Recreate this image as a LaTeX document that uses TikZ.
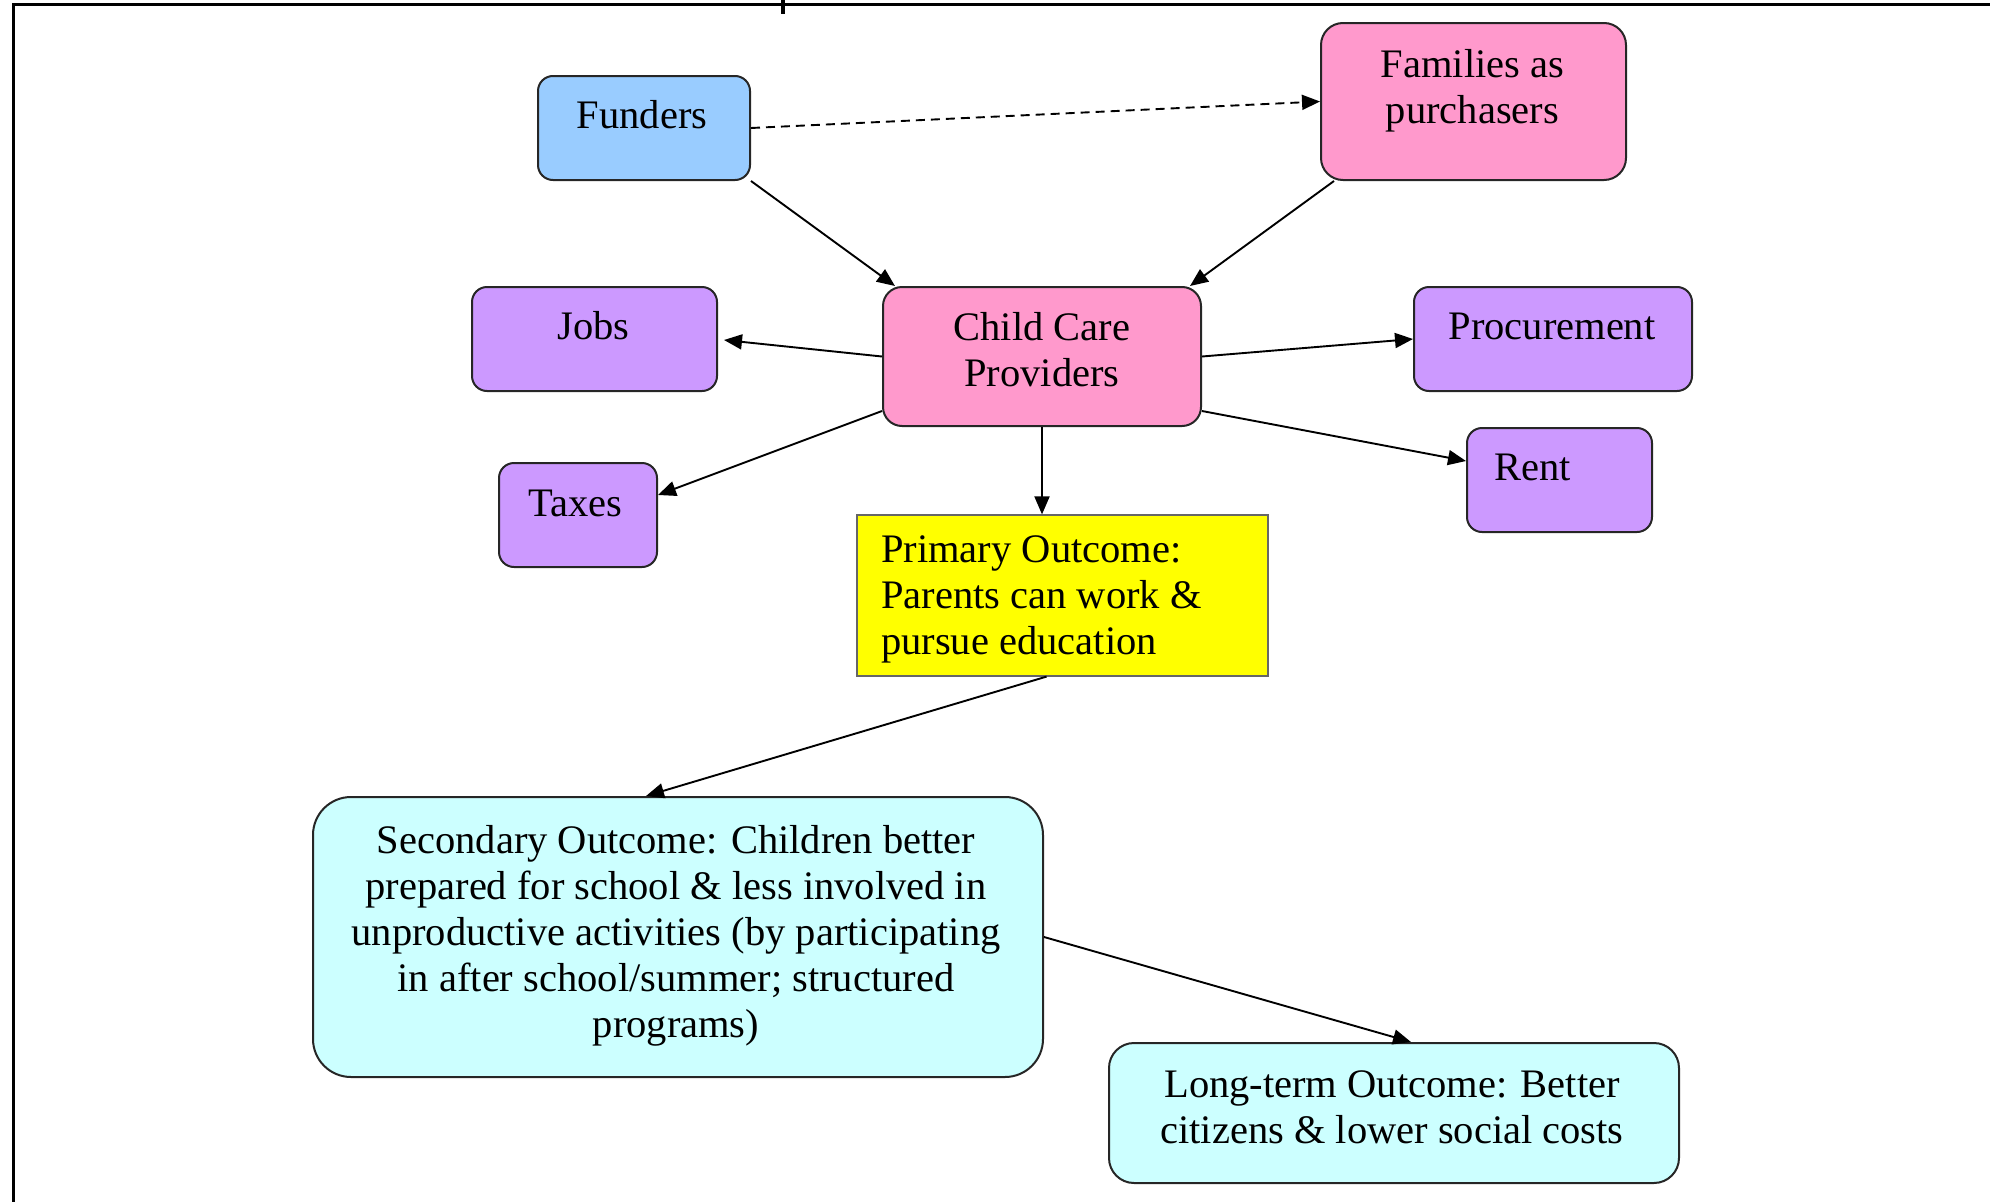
\documentclass[tikz,border=0pt]{standalone}
\usepackage{fontspec}
\setmainfont{Liberation Serif}
\usetikzlibrary{arrows.meta,calc}
\definecolor{funderblue}{HTML}{99CCFF}
\definecolor{provpink}{HTML}{FF99CC}
\definecolor{econpurple}{HTML}{CC99FF}
\definecolor{outyellow}{HTML}{FFFF00}
\definecolor{outcyan}{HTML}{CCFFFF}
\begin{document}
\begin{tikzpicture}[x=1pt,y=-1pt,
  box/.style={draw=black!85, line width=2pt, rounded corners=15pt, inner sep=0pt},
  lbl/.style={font=\fontsize{40.5}{46}\selectfont, align=center, inner sep=0pt},
  edge/.style={line width=1.9pt, -{Triangle[length=18pt,width=15pt]}},
  frameline/.style={line width=3pt}
]
\useasboundingbox (0,0) rectangle (1990,1202);
% frame
\draw[frameline] (13,1202) -- (13,4) -- (1990,4);
\draw[line width=4pt] (783,0) -- (783,14);

% boxes
\node[box, fill=funderblue, minimum width=212pt, minimum height=104pt] (funders) at (644,128) {};
\node[box, fill=provpink, rounded corners=22pt, minimum width=305pt, minimum height=157pt] (families) at (1473.5,101.5) {};
\node[box, fill=provpink, rounded corners=19pt, minimum width=318pt, minimum height=139pt] (ccp) at (1042,356.5) {};
\node[box, fill=econpurple, minimum width=245pt, minimum height=104pt] (jobs) at (594.5,339) {};
\node[box, fill=econpurple, minimum width=278pt, minimum height=104pt] (procurement) at (1553,339) {};
\node[box, fill=econpurple, minimum width=158pt, minimum height=104pt] (taxes) at (578,515) {};
\node[box, fill=econpurple, minimum width=185pt, minimum height=104pt] (rent) at (1559.5,480) {};
\node[draw=black!60, line width=1.2pt, fill=outyellow, inner sep=0pt, minimum width=411pt, minimum height=161pt] (primary) at (1062.5,595.5) {};
\node[box, fill=outcyan, rounded corners=38pt, minimum width=730pt, minimum height=280pt] (secondary) at (678,937) {};
\node[box, fill=outcyan, rounded corners=25pt, minimum width=570pt, minimum height=140pt] (longterm) at (1394,1113) {};

% labels
\node[lbl] (funders-t) at ($(funders.center)+(-2,-13)$) {Funders};
\node[lbl] (families-t) at ($(families.center)+(-1,-11)$) {Families as\\purchasers};
\node[lbl] (ccp-t) at ($(ccp.center)+(0,-7)$) {Child Care\\Providers};
\node[lbl] (jobs-t) at ($(jobs.center)+(-1,-13)$) {Jobs};
\node[lbl] (procurement-t) at ($(procurement.center)+(-1,-13)$) {Procurement};
\node[lbl] (taxes-t) at ($(taxes.center)+(-3,-12)$) {Taxes};
\node[lbl] (rent-t) at ($(rent.center)+(-27,-13)$) {Rent};
\node[lbl, align=left, anchor=west] (primary-t) at (881,599.5) {Primary Outcome:\\Parents can work \&\\pursue education};
\node[lbl] (secondary-t) at ($(secondary.center)+(-2,-1)$) {Secondary Outcome: Children better\\prepared for school \& less involved in\\unproductive activities (by participating\\in after school/summer; structured\\programs)};
\node[lbl] (longterm-t) at ($(longterm.center)+(-2,-6)$) {Long-term Outcome: Better\\citizens \& lower social costs};

% connectors
\draw[edge, dash pattern=on 9pt off 6pt] (funders.east) -- (families.west);
\draw[edge] (funders.south east) -- ($(ccp.north west)+(13,0)$);
\draw[edge] ($(families.south west)+(14,0)$) -- ($(ccp.north east)+(-12,0)$);
\draw[edge] (ccp.west) -- ($(jobs.east)+(6,1)$);
\draw[edge] (ccp.east) -- (procurement.west);
\draw[edge] ($(ccp.south west)+(0,-16)$) -- ($(taxes.north east)+(0,33)$);
\draw[edge] ($(ccp.south east)+(0,-16)$) -- ($(rent.north west)+(0,34)$);
\draw[edge] (ccp.south) -- (ccp.south |- primary.north);
\draw[edge] ($(primary.south)+(-16,0)$) -- ($(secondary.north)+(-32,0)$);
\draw[edge] (secondary.east) -- ($(longterm.north)+(17,0)$);
\end{tikzpicture}
\end{document}
